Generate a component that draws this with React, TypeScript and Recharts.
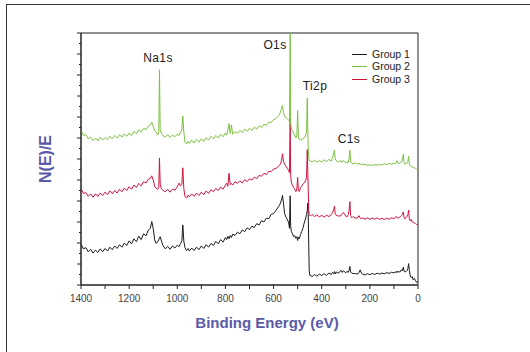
import { LineChart, Line, XAxis, YAxis, ReferenceArea, Legend } from "recharts";

// binding energy (eV), shared by all three spectra
const energy = [
  // 1400 - 1120
  1400, 1390, 1380, 1370, 1360, 1350, 1340, 1330, 1320, 1310, 1300, 1290, 1280, 1270, 1260,
  1250, 1240, 1230, 1220, 1210, 1200, 1190, 1180, 1170, 1160, 1150, 1140, 1130, 1120,
  // Na1s region
  1112, 1106, 1100, 1094, 1088, 1082, 1077, 1074, 1071, 1066, 1060, 1050, 1040, 1030, 1020,
  1010, 1000, 993, 986, 981, 977, 973, 968, 962, 955,
  // 950 - 600
  950, 940, 930, 920, 910, 900, 890, 880, 870, 860, 850, 840, 830, 820, 810, 800,
  795, 790, 785, 780, 775, 770,
  760, 750, 740, 730, 720, 710, 700, 690, 680, 670, 660, 650, 640, 630, 620, 610, 600,
  // O1s / Ti2p region
  590, 580, 575, 570, 566, 563, 559, 554, 548, 542, 537, 534, 531, 529, 526, 522, 517, 512,
  507, 503, 500, 497, 493, 488, 483, 478, 474, 470, 466, 463, 460, 458, 456, 454, 452, 449,
  // 445 - 0
  445, 440, 430, 420, 410, 400, 390, 380, 370, 360, 355, 350, 347, 344, 340, 330, 320, 315,
  310, 300, 295, 290, 286, 283, 280, 275, 270, 260, 250, 245, 240, 235, 230, 220, 210, 200,
  190, 180, 170, 160, 150, 140, 130, 120, 110, 100, 95, 90, 87, 84, 80, 75, 70, 65,
  61, 58, 55, 50, 45, 42, 39, 36, 32, 28, 24, 20, 15, 10, 5, 0,
];

const group1 = [
  1.95, 1.72, 1.78, 1.58, 1.7, 1.52, 1.66, 1.55, 1.72, 1.58, 1.74, 1.62, 1.8, 1.68, 1.86,
  1.74, 1.92, 1.8, 2.0, 1.88, 2.1, 1.96, 2.2, 2.06, 2.32, 2.16, 2.44, 2.34, 2.62,
  2.7, 3.02, 2.7, 2.15, 1.98, 2.05, 2.15, 2.25, 2.3, 2.1, 1.9, 1.72, 1.84, 1.7, 1.86,
  1.76, 1.9, 1.82, 1.98, 2.1, 2.86, 2.1, 1.78, 1.64, 1.74,
  1.62, 1.76, 1.64, 1.8, 1.68, 1.86, 1.74, 1.92, 1.8, 1.98, 1.88, 2.08, 1.96, 2.16, 2.04, 2.26,
  2.16, 2.32, 2.2, 2.36, 2.26, 2.42,
  2.36, 2.52, 2.44, 2.62, 2.54, 2.72, 2.64, 2.8, 2.74, 2.92, 2.86, 3.06, 3.0, 3.18, 3.16, 3.36, 3.4,
  3.55, 3.72, 3.8, 3.95, 4.1, 4.27, 3.9, 3.4, 3.22, 3.1, 2.95, 2.7, 4.25, 2.8, 2.55, 2.45, 2.3, 2.35,
  2.22, 2.3, 2.12, 2.28, 2.2, 2.4, 2.55, 2.7, 2.9, 3.05, 3.2, 3.35, 3.55, 3.9, 3.4, 2.0, 0.7, 0.45,
  0.45, 0.4, 0.5, 0.42, 0.52, 0.45, 0.54, 0.46, 0.57, 0.5, 0.6, 0.54, 0.64, 0.53, 0.62, 0.56, 0.7, 0.6,
  0.68, 0.58, 0.65, 0.6, 0.7, 0.88, 0.62, 0.56, 0.55, 0.54, 0.52, 0.6, 0.72, 0.56, 0.52, 0.48, 0.54, 0.49,
  0.55, 0.5, 0.56, 0.52, 0.57, 0.53, 0.59, 0.55, 0.61, 0.57, 0.63, 0.59, 0.66, 0.6, 0.65, 0.61, 0.72, 0.68,
  0.85, 0.66, 0.62, 0.64, 0.7, 0.78, 1.02, 0.7, 0.42, 0.35, 0.4, 0.25, 0.32, 0.2, 0.12, 0.18,
];

const group2 = [
  7.38, 7.12, 7.16, 6.96, 7.04, 6.88, 7.0, 6.86, 7.04, 6.9, 7.02, 6.92, 7.08, 6.96, 7.12,
  7.0, 7.16, 7.04, 7.2, 7.08, 7.24, 7.12, 7.32, 7.2, 7.4, 7.28, 7.46, 7.4, 7.58,
  7.62, 7.75, 7.55, 7.35, 7.28, 7.15, 7.25, 10.25, 7.4, 7.22, 7.12, 7.04, 7.16, 7.02, 7.14,
  7.06, 7.18, 7.12, 7.28, 7.4, 8.05, 7.3, 6.8, 6.72, 6.84,
  6.74, 6.9, 6.76, 6.94, 6.8, 6.96, 6.84, 7.02, 6.9, 7.08, 6.96, 7.12, 7.0, 7.18, 7.06, 7.24,
  7.14, 7.38, 7.68, 7.22, 7.62, 7.18,
  7.3, 7.22, 7.36, 7.26, 7.42, 7.32, 7.46, 7.36, 7.52, 7.42, 7.58, 7.5, 7.66, 7.6, 7.76, 7.74, 7.88,
  7.92, 8.05, 8.12, 8.3, 8.45, 8.55, 8.2, 8.05, 7.95, 7.9, 7.85, 7.8, 12.0, 7.7, 7.45, 7.35, 7.25, 7.1,
  7.0, 7.15, 8.3, 7.05, 6.92, 6.95, 6.9, 6.98, 7.0, 7.05, 7.15, 7.3, 8.9, 7.5, 6.6, 6.05, 5.95, 5.9,
  5.9, 5.86, 5.94, 5.85, 5.92, 5.86, 5.96, 5.88, 5.98, 5.9, 6.05, 6.3, 6.42, 6.0, 5.92, 5.86, 5.92, 5.84,
  5.93, 5.81, 5.87, 5.83, 6.0, 6.42, 5.9, 5.8, 5.77, 5.81, 5.75, 5.81, 5.73, 5.79, 5.71, 5.75, 5.69, 5.73,
  5.69, 5.74, 5.7, 5.75, 5.71, 5.77, 5.73, 5.79, 5.75, 5.81, 5.77, 5.84, 5.92, 5.8, 5.78, 5.82, 5.85, 5.95,
  6.22, 5.8, 5.75, 5.78, 5.82, 5.9, 6.14, 5.75, 5.68, 5.65, 5.62, 5.6, 5.58, 5.55, 5.5, 5.48,
];

const group3 = [
  4.58, 4.36, 4.4, 4.22, 4.34, 4.18, 4.34, 4.22, 4.38, 4.26, 4.42, 4.3, 4.48, 4.34, 4.5,
  4.38, 4.56, 4.44, 4.62, 4.5, 4.68, 4.56, 4.76, 4.64, 4.84, 4.72, 4.92, 4.86, 5.04,
  5.08, 5.2, 5.0, 4.7, 4.62, 4.55, 4.65, 6.05, 4.8, 4.58, 4.52, 4.44, 4.56, 4.42, 4.56,
  4.52, 4.68, 4.85, 4.72, 4.8, 5.58, 4.6, 4.22, 4.14, 4.28,
  4.2, 4.34, 4.22, 4.38, 4.26, 4.42, 4.3, 4.48, 4.36, 4.54, 4.44, 4.6, 4.5, 4.66, 4.56, 4.76,
  4.85, 4.7, 5.32, 4.78, 4.84, 4.76,
  4.92, 4.84, 4.96, 4.86, 5.02, 4.92, 5.06, 5.0, 5.14, 5.06, 5.22, 5.18, 5.32, 5.26, 5.42, 5.4, 5.52,
  5.55, 5.65, 5.7, 5.8, 6.0, 6.25, 5.9, 5.75, 5.65, 5.55, 5.45, 5.35, 7.92, 5.2, 4.9, 4.75, 4.65, 4.55,
  4.45, 4.6, 5.12, 4.5, 4.45, 4.65, 4.7, 4.8, 4.85, 4.9, 5.0, 5.1, 6.45, 5.4, 4.6, 3.6, 3.35, 3.3,
  3.3, 3.36, 3.26, 3.34, 3.24, 3.32, 3.23, 3.32, 3.26, 3.35, 3.45, 3.6, 3.75, 3.4, 3.32, 3.28, 3.3, 3.4,
  3.45, 3.28, 3.24, 3.35, 3.55, 3.97, 3.3, 3.2, 3.26, 3.18, 3.2, 3.3, 3.2, 3.14, 3.2, 3.13, 3.2, 3.12,
  3.19, 3.13, 3.2, 3.12, 3.18, 3.11, 3.18, 3.13, 3.2, 3.15, 3.22, 3.26, 3.2, 3.18, 3.2, 3.24, 3.3, 3.35,
  3.48, 3.22, 3.15, 3.2, 3.28, 3.35, 3.57, 3.15, 3.05, 3.12, 3.0, 2.98, 2.95, 2.92, 2.88, 2.86,
];

const xTicks = [1400, 1300, 1200, 1100, 1000, 900, 800, 700, 600, 500, 400, 300, 200, 100, 0];
const yTicks = [0, 0.5, 1, 1.5, 2, 2.5, 3, 3.5, 4, 4.5, 5, 5.5, 6, 6.5, 7, 7.5, 8, 8.5, 9, 9.5, 10, 10.5, 11, 11.5, 12];

const seriesNames = ["Group 1", "Group 2", "Group 3"];
const peakNames = ["Na1s", "O1s", "Ti2p", "C1s"];

const COLORS = ["#1a1a1a", "#7dc242", "#d4113d"];
const FONT = "'Liberation Sans', Arial, sans-serif";
const LABEL_BLUE = "#5a5aa8";

const data = energy.map((e, i) => ({
  energy: e,
  g1: group1[i],
  g2: group2[i],
  g3: group3[i],
}));

// left axis: long ticks on whole units, short ones in between, no labels
function YTick(props: any) {
  const { x, y, payload } = props;
  const len = Number.isInteger(payload.value) ? 4 : 2;
  return <line x1={x} x2={x - len} y1={y} y2={y} stroke="#222" strokeWidth={1} />;
}

function LegendBox() {
  return (
    <div style={{ fontFamily: FONT, fontSize: 10.5, lineHeight: "12.4px", color: "#222" }}>
      {seriesNames.map((name, i) => (
        <div key={name} style={{ display: "flex", alignItems: "center", whiteSpace: "nowrap" }}>
          <span
            style={{
              display: "inline-block",
              width: 15,
              height: 0,
              borderTop: `1.4px solid ${COLORS[i]}`,
              marginRight: 5,
            }}
          />
          {name}
        </div>
      ))}
    </div>
  );
}

// where the peak names sit over the plot (px)
const peakPos = [
  { left: 158, top: 58 },
  { left: 275, top: 45 },
  { left: 315, top: 86 },
  { left: 349, top: 139 },
];

export default function App() {
  return (
    <div
      style={{
        position: "absolute",
        left: 0,
        top: 0,
        width: 530,
        height: 352,
        overflow: "hidden",
        background: "#fff",
        fontFamily: FONT,
      }}
    >
      {/* page frame */}
      <div
        style={{
          position: "absolute",
          left: 6,
          top: 4,
          width: 600,
          height: 400,
          borderTop: "1px solid #333",
          borderLeft: "1px solid #333",
        }}
      />
      <LineChart
        width={530}
        height={352}
        data={data}
        margin={{ top: 33, right: 112, bottom: 37, left: 75 }}
      >
        <XAxis
          dataKey="energy"
          type="number"
          domain={[0, 1400]}
          reversed
          ticks={xTicks}
          interval={0}
          tickFormatter={(v: number) => (v % 200 === 0 ? String(v) : "")}
          tickSize={4}
          tickMargin={6}
          height={30}
          stroke="#222"
          tick={{ fill: "#444", fontSize: 10, fontFamily: FONT }}
          allowDataOverflow
        />
        <YAxis
          type="number"
          domain={[0, 12]}
          ticks={yTicks}
          interval={0}
          tickLine={false}
          tickSize={0}
          tickMargin={0}
          width={6}
          stroke="#222"
          tick={(p: any) => <YTick {...p} />}
          allowDataOverflow
        />
        <Line dataKey="g1" name={seriesNames[0]} stroke={COLORS[0]} strokeWidth={1} dot={false} isAnimationActive={false} />
        <Line dataKey="g3" name={seriesNames[2]} stroke={COLORS[2]} strokeWidth={1} dot={false} isAnimationActive={false} />
        <Line dataKey="g2" name={seriesNames[1]} stroke={COLORS[1]} strokeWidth={1} dot={false} isAnimationActive={false} />
        <ReferenceArea x1={0} x2={1400} y1={0} y2={12} fill="none" stroke="#222" strokeWidth={1} />
        <Legend
          layout="vertical"
          align="center"
          verticalAlign="middle"
          wrapperStyle={{ left: 352, top: 48, width: 70, height: 40 }}
          content={() => <LegendBox />}
        />
      </LineChart>

      {peakNames.map((name, i) => (
        <div
          key={name}
          style={{
            position: "absolute",
            left: peakPos[i].left,
            top: peakPos[i].top,
            transform: "translate(-50%, -50%)",
            fontSize: 12,
            letterSpacing: 0.4,
            color: "#222",
            whiteSpace: "nowrap",
          }}
        >
          {name}
        </div>
      ))}

      <div
        style={{
          position: "absolute",
          left: 267,
          top: 322,
          transform: "translate(-50%, -50%)",
          fontSize: 15,
          fontWeight: "bold",
          color: LABEL_BLUE,
          whiteSpace: "nowrap",
        }}
      >
        Binding Energy (eV)
      </div>
      <div
        style={{
          position: "absolute",
          left: 46,
          top: 159,
          transform: "translate(-50%, -50%) rotate(-90deg)",
          fontSize: 16,
          fontWeight: "bold",
          color: LABEL_BLUE,
          whiteSpace: "nowrap",
        }}
      >
        N(E)/E
      </div>
    </div>
  );
}
